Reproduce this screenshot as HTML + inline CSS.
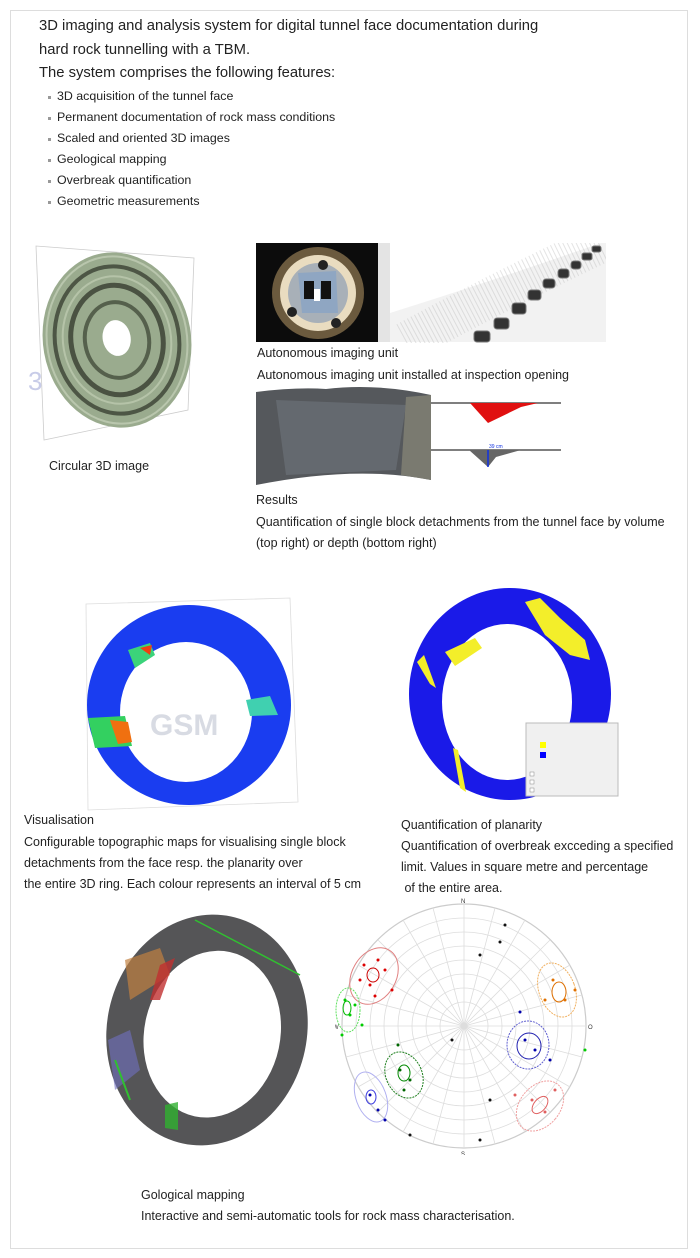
<!DOCTYPE html>
<html><head><meta charset="utf-8"><style>
body{margin:0;width:700px;height:1258px;background:#fff;position:relative;overflow:hidden;font-family:"Liberation Sans","Noto Sans CJK KR",sans-serif;color:#222}
.frame{position:absolute;left:10px;top:10px;width:676px;height:1237px;border:1px solid #ddd}
.t{position:absolute;white-space:nowrap;font-size:12.5px}
.h{font-size:14.8px}
.b{font-size:12.4px}
.b:before{content:"";position:absolute;left:-9px;top:7px;width:3px;height:3px;background:#999}
svg{position:absolute}
</style></head><body>
<div class="frame"></div>
<div class="t h" style="left:39px;top:18px">3D imaging and analysis system for digital tunnel face documentation during</div>
<div class="t h" style="left:39px;top:42px">hard rock tunnelling with a TBM.</div>
<div class="t h" style="left:39px;top:65px">The system comprises the following features:</div>
<div class="t b" style="left:57px;top:89px">3D acquisition of the tunnel face</div>
<div class="t b" style="left:57px;top:110px">Permanent documentation of rock mass conditions</div>
<div class="t b" style="left:57px;top:131px">Scaled and oriented 3D images</div>
<div class="t b" style="left:57px;top:152px">Geological mapping</div>
<div class="t b" style="left:57px;top:173px">Overbreak quantification</div>
<div class="t b" style="left:57px;top:194px">Geometric measurements</div>

<!-- circular 3D -->
<svg style="left:20px;top:230px" width="200" height="230" viewBox="20 230 200 230">
<polygon points="36,246 194,258 188,410 44,440" fill="none" stroke="#ccc" stroke-width="0.8"/>
<text x="28" y="390" font-size="26" fill="#c8cce8" font-family="Liberation Sans">3</text>
<g transform="rotate(-10 117 340)">
<ellipse cx="117" cy="340" rx="74" ry="88" fill="#9aab8e"/>
<ellipse cx="117" cy="340" rx="62" ry="74" fill="none" stroke="#4d5645" stroke-width="4"/>
<ellipse cx="117" cy="340" rx="46" ry="55" fill="none" stroke="#4a5242" stroke-width="5"/>
<ellipse cx="117" cy="340" rx="32" ry="38" fill="none" stroke="#55604c" stroke-width="4"/>
<ellipse cx="117" cy="340" rx="70" ry="84" fill="none" stroke="#b9c6ad" stroke-width="2"/>
<ellipse cx="117" cy="340" rx="54" ry="64" fill="none" stroke="#b5c3a8" stroke-width="2"/>
<ellipse cx="117" cy="338" rx="14" ry="18" fill="#fff"/>
</g>
</svg>
<div class="t" style="left:49px;top:459px">Circular 3D image</div>

<!-- imaging unit -->
<svg style="left:256px;top:243px" width="350" height="100">
<rect x="0" y="0" width="122" height="99" fill="#0c0c0c"/>
<circle cx="62" cy="50" r="46" fill="#6b5a3e"/>
<circle cx="62" cy="50" r="38" fill="#e9dcc0"/>
<circle cx="62" cy="50" r="30" fill="#a8b0b8"/>
<polygon points="42,30 80,28 82,70 46,70" fill="#8fa6c2"/>
<rect x="48" y="38" width="10" height="18" fill="#111"/><rect x="65" y="38" width="10" height="18" fill="#111"/>
<rect x="58" y="46" width="6" height="12" fill="#fff"/>
<circle cx="67" cy="22" r="5" fill="#222"/><circle cx="36" cy="69" r="5" fill="#222"/><circle cx="80" cy="80" r="5" fill="#222"/>
<rect x="122" y="0" width="12" height="99" fill="#e4e4e4"/>
<path d="M134,99 L134,70 Q230,40 345,0 L350,0 L350,99 Z" fill="#f2f2f2"/>
<path d="M150,99 Q240,50 345,0" stroke="#bbb" stroke-width="40" fill="none" opacity="0.4" stroke-dasharray="1 3"/>
<g fill="#333" stroke="#777" stroke-width="1">
<rect x="218" y="88" width="16" height="11" rx="3"/><rect x="238" y="75" width="15" height="11" rx="3"/>
<rect x="256" y="60" width="14" height="11" rx="3"/><rect x="272" y="47" width="13" height="10" rx="3"/>
<rect x="287" y="36" width="12" height="9" rx="3"/><rect x="302" y="26" width="11" height="9" rx="3"/>
<rect x="315" y="18" width="10" height="8" rx="3"/><rect x="326" y="10" width="10" height="7" rx="2"/>
<rect x="336" y="3" width="9" height="6" rx="2"/>
</g>
</svg>
<div class="t" style="left:257px;top:346px">Autonomous imaging unit</div>
<div class="t" style="left:257px;top:368px">Autonomous imaging unit installed at inspection opening</div>

<!-- results -->
<svg style="left:256px;top:385px" width="310" height="100">
<path d="M0,7 Q40,2 70,4 Q120,-2 175,10 L175,95 Q100,80 0,100 Z" fill="#55585c"/>
<path d="M20,15 L150,20 L140,85 L30,90 Z" fill="#6b7077" opacity="0.7"/>
<path d="M150,12 L175,10 L175,95 L145,90 Z" fill="#7a7a70"/>
<line x1="175" y1="18" x2="305" y2="18" stroke="#555" stroke-width="1.5"/>
<polygon points="214,18 282,18 265,22 232,38" fill="#e01010"/>
<line x1="175" y1="65" x2="305" y2="65" stroke="#555" stroke-width="1.5"/>
<polygon points="213,65 265,65 240,72 232,82" fill="#666"/>
<line x1="232" y1="65" x2="232" y2="82" stroke="#1030e0" stroke-width="1.5"/>
<text x="233" y="63" font-size="5" fill="#1030e0">39 cm</text>
</svg>
<div class="t" style="left:256px;top:493px">Results</div>
<div class="t" style="left:256px;top:515px">Quantification of single block detachments from the tunnel face by volume</div>
<div class="t" style="left:256px;top:536px">(top right) or depth (bottom right)</div>

<!-- visualisation ring -->
<svg style="left:80px;top:590px" width="240" height="225" viewBox="80 590 240 225">
<polygon points="86,604 290,598 298,802 88,810" fill="none" stroke="#ddd" stroke-width="0.8"/>
<ellipse cx="189" cy="705" rx="102" ry="100" fill="#1a3df0"/>
<ellipse cx="186" cy="712" rx="66" ry="70" fill="#fff"/>
<path d="M128,650 L150,643 L155,655 L135,668 Z" fill="#3bd37a"/><path d="M140,648 L152,645 L150,655 Z" fill="#f04010"/>
<path d="M88,718 L125,716 L132,746 L95,748 Z" fill="#33d060"/><path d="M110,720 L128,722 L132,742 L118,744 Z" fill="#f07010"/>
<path d="M246,700 L270,696 L278,715 L250,716 Z" fill="#40d0b0"/>
<text x="150" y="735" font-size="30" font-weight="bold" fill="#c8ccd8" opacity="0.7">GSM</text>
</svg>
<div class="t" style="left:24px;top:813px">Visualisation</div>
<div class="t" style="left:24px;top:835px">Configurable topographic maps for visualising single block</div>
<div class="t" style="left:24px;top:856px">detachments from the face resp. the planarity over</div>
<div class="t" style="left:24px;top:877px">the entire 3D ring. Each colour represents an interval of 5 cm</div>

<!-- planarity ring -->
<svg style="left:400px;top:585px" width="220" height="215" viewBox="400 585 220 215">
<ellipse cx="510" cy="694" rx="101" ry="106" fill="#1a1ae8"/>
<ellipse cx="507" cy="702" rx="65" ry="78" fill="#fff"/>
<path d="M525,602 L540,598 L560,618 L585,640 L590,660 L570,655 L545,635 Z" fill="#f3ee2a"/>
<path d="M445,652 L475,638 L482,648 L455,666 Z" fill="#f3ee2a"/>
<path d="M417,662 L424,655 L436,688 L430,684 Z" fill="#f3ee2a"/>
<path d="M453,748 L458,750 L466,792 L460,788 Z" fill="#f3ee2a"/>
<rect x="526" y="723" width="92" height="73" fill="#f0f0f0" stroke="#bbb"/>
<rect x="540" y="742" width="6" height="6" fill="#ff0"/><rect x="540" y="752" width="6" height="6" fill="#00f"/>
<g fill="#fff" stroke="#888" stroke-width="0.5"><rect x="530" y="772" width="4" height="4"/><rect x="530" y="780" width="4" height="4"/><rect x="530" y="788" width="4" height="4"/></g>
</svg>
<div class="t" style="left:401px;top:818px">Quantification of planarity</div>
<div class="t" style="left:401px;top:839px">Quantification of overbreak excceding a specified</div>
<div class="t" style="left:401px;top:860px">limit. Values in square metre and percentage</div>
<div class="t" style="left:401px;top:881px">&nbsp;of the entire area.</div>

<!-- geological ring -->
<svg style="left:90px;top:895px" width="240" height="260" viewBox="90 895 240 260">
<g transform="rotate(12 207 1030)">
<ellipse cx="207" cy="1030" rx="100" ry="116" fill="#555557"/>
<ellipse cx="213" cy="1033" rx="68" ry="84" fill="#fff"/>
</g>
<path d="M125,960 L160,948 L170,975 L130,1000 Z" fill="#c08040" opacity="0.7"/>
<path d="M160,965 L175,958 L160,1000 L150,1000 Z" fill="#c03030" opacity="0.8"/>
<path d="M108,1040 L130,1030 L140,1070 L115,1090 Z" fill="#7070c0" opacity="0.6"/>
<path d="M165,1105 L178,1102 L178,1130 L165,1128 Z" fill="#30b030" opacity="0.8"/>
<path d="M195,920 L300,975" stroke="#30c030" stroke-width="1.5"/>
<path d="M115,1060 L130,1100" stroke="#30c030" stroke-width="2"/>
</svg>
<div class="t" style="left:141px;top:1188px">Gological mapping</div>
<div class="t" style="left:141px;top:1209px">Interactive and semi-automatic tools for rock mass characterisation.</div>

<!-- stereonet -->
<svg style="left:335px;top:895px" width="265" height="260" viewBox="335 895 265 260">
<g fill="none" stroke="#ddd" stroke-width="0.8">
<circle cx="464" cy="1026" r="122" stroke="#ccc" stroke-width="1.2"/>
<circle cx="464" cy="1026" r="108"/><circle cx="464" cy="1026" r="94"/><circle cx="464" cy="1026" r="80"/>
<circle cx="464" cy="1026" r="66"/><circle cx="464" cy="1026" r="52"/><circle cx="464" cy="1026" r="38"/><circle cx="464" cy="1026" r="24"/>
<path d="M464,904V1148M342,1026H586M378,940L550,1112M550,940L378,1112M403,920L525,1132M525,920L403,1132M358,965L570,1087M570,965L358,1087M433,908L495,1144M495,908L433,1144M346,995L582,1057M582,995L346,1057"/>
</g>
<text x="461" y="903" font-size="6" fill="#333">N</text><text x="461" y="1156" font-size="6" fill="#333">S</text>
<text x="333" y="1029" font-size="6" fill="#333">W</text><text x="588" y="1029" font-size="6" fill="#333">O</text>
<g fill="none" stroke-width="1">
<ellipse cx="374" cy="976" rx="22" ry="30" stroke="#e08080" transform="rotate(30 374 976)"/><ellipse cx="373" cy="975" rx="6" ry="7" stroke="#c00"/>
<ellipse cx="348" cy="1010" rx="12" ry="22" stroke="#60e060" stroke-dasharray="2 1"/><ellipse cx="347" cy="1008" rx="4" ry="7" stroke="#0b0"/>
<ellipse cx="557" cy="990" rx="18" ry="28" stroke="#f0b060" stroke-dasharray="2 1" transform="rotate(-20 557 990)"/><ellipse cx="559" cy="992" rx="7" ry="10" stroke="#e07000"/>
<ellipse cx="528" cy="1045" rx="21" ry="24" stroke="#6060d0" stroke-dasharray="2 1"/><ellipse cx="529" cy="1046" rx="12" ry="13" stroke="#2020b0"/>
<ellipse cx="404" cy="1075" rx="18" ry="24" stroke="#208020" stroke-dasharray="2 1" transform="rotate(-25 404 1075)"/><ellipse cx="404" cy="1073" rx="6" ry="8" stroke="#080"/>
<ellipse cx="371" cy="1097" rx="15" ry="26" stroke="#b0b0f0" transform="rotate(-20 371 1097)"/><ellipse cx="371" cy="1097" rx="5" ry="7" stroke="#4040e0"/>
<ellipse cx="540" cy="1106" rx="20" ry="28" stroke="#f0a0a0" stroke-dasharray="2 1" transform="rotate(40 540 1106)"/><ellipse cx="540" cy="1105" rx="6" ry="10" stroke="#e06060" transform="rotate(40 540 1105)"/>
</g>
<g fill="#d00"><circle cx="364" cy="965" r="1.5"/><circle cx="378" cy="960" r="1.5"/><circle cx="370" cy="985" r="1.5"/><circle cx="385" cy="970" r="1.5"/><circle cx="360" cy="980" r="1.5"/><circle cx="392" cy="990" r="1.5"/><circle cx="375" cy="996" r="1.5"/></g>
<g fill="#0c0"><circle cx="345" cy="1000" r="1.5"/><circle cx="350" cy="1015" r="1.5"/><circle cx="355" cy="1005" r="1.5"/><circle cx="362" cy="1025" r="1.5"/><circle cx="342" cy="1035" r="1.5"/><circle cx="585" cy="1050" r="1.5"/></g>
<g fill="#e07000"><circle cx="553" cy="980" r="1.5"/><circle cx="565" cy="1000" r="1.5"/><circle cx="575" cy="990" r="1.5"/><circle cx="545" cy="1000" r="1.5"/></g>
<g fill="#00a"><circle cx="525" cy="1040" r="1.5"/><circle cx="535" cy="1050" r="1.5"/><circle cx="520" cy="1012" r="1.5"/><circle cx="550" cy="1060" r="1.5"/><circle cx="370" cy="1095" r="1.5"/><circle cx="378" cy="1110" r="1.5"/><circle cx="385" cy="1120" r="1.5"/></g>
<g fill="#060"><circle cx="400" cy="1070" r="1.5"/><circle cx="410" cy="1080" r="1.5"/><circle cx="404" cy="1090" r="1.5"/><circle cx="398" cy="1045" r="1.5"/></g>
<g fill="#111"><circle cx="452" cy="1040" r="1.5"/><circle cx="480" cy="955" r="1.5"/><circle cx="500" cy="942" r="1.5"/><circle cx="490" cy="1100" r="1.5"/><circle cx="480" cy="1140" r="1.5"/><circle cx="410" cy="1135" r="1.5"/><circle cx="505" cy="925" r="1.5"/></g>
<g fill="#e06060"><circle cx="532" cy="1100" r="1.5"/><circle cx="545" cy="1112" r="1.5"/><circle cx="515" cy="1095" r="1.5"/><circle cx="555" cy="1090" r="1.5"/></g>
</svg>
</body></html>
